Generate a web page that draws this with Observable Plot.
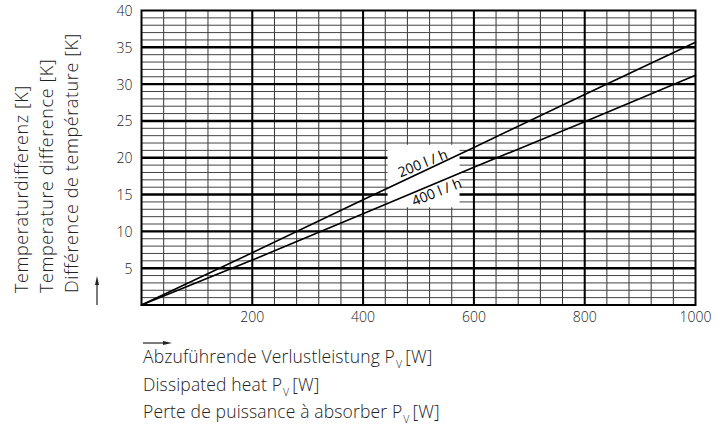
<!DOCTYPE html>
<html>
<head>
<meta charset="utf-8">
<script src="https://cdn.jsdelivr.net/npm/d3@7"></script>
<script src="https://cdn.jsdelivr.net/npm/@observablehq/plot@0.6"></script>
<style>
  html, body { margin: 0; padding: 0; background: #fff; }
  #chart { width: 723px; height: 330px; }
  #cap { position: relative; margin-left: 143px; margin-top: 14px; font-family: "Open Sans", "Liberation Sans", sans-serif; font-weight: 300; font-size: 17.5px; letter-spacing: 0.15px; line-height: 24.5px; color: #222; }
  #cap .sub { position: relative; top: 5px; font-size: 10.5px; margin-left: 1px; margin-right: 3px; }
  #cap svg { position: absolute; left: 0; top: -5px; }
</style>
</head>
<body>
<div id="chart"></div>
<div id="cap">
  <svg width="32" height="8"><line x1="0" y1="4" x2="22" y2="4" stroke="#222" stroke-width="1.2"/><path d="M20,2 L29,4 L20,6 Z" fill="#222"/></svg>
  Abzuführende Verlustleistung P<span class="sub">V</span>[W]<br>
  Dissipated heat P<span class="sub">V</span>[W]<br>
  Perte de puissance à absorber P<span class="sub">V</span>[W]
</div>
<script>
// Power dissipation (W) and temperature difference (K)
const power = [0, 200, 400, 600, 800, 1000];
const dT200 = [0, 7.1, 14.3, 21.4, 28.6, 35.7];   // 200 l/h
const dT400 = [0, 6.1, 12.4, 18.7, 24.9, 31.2];   // 400 l/h
const seriesNames = ["200 l / h", "400 l / h"];
const labelPower = [508, 533];
const labelTemp = [19.2, 15.3];
const xTicks = [200, 400, 600, 800, 1000];
const yTicks = [5, 10, 15, 20, 25, 30, 35, 40];
const xMinor = d3.range(40, 1000, 40);
const yMinor = d3.range(1, 40, 1);
const yTitles = ["Temperaturdifferenz [K]", "Temperature difference [K]", "Différence de température [K]"];
// white cut-out behind the curve labels (W, K)
const labelBox = [{x1: 445, x2: 575, y1: 13.2, y2: 21.7}];

const rows = [];
power.forEach((p, i) => {
  rows.push({p, t: dT200[i], s: seriesNames[0]});
  rows.push({p, t: dT400[i], s: seriesNames[1]});
});
const labels = seriesNames.map((s, i) => ({s, p: labelPower[i], t: labelTemp[i]}));

const font = "'Open Sans', 'Liberation Sans', sans-serif";

const chart = Plot.plot({
  width: 723,
  height: 330,
  marginLeft: 141,
  marginRight: 28,
  marginTop: 10,
  marginBottom: 25.5,
  x: {domain: [0, 1000]},
  y: {domain: [0, 40]},
  style: {fontFamily: font, fontWeight: 300, background: "#fff", color: "#222"},
  marks: [
    Plot.ruleX(xMinor, {stroke: "#333", strokeWidth: 1}),
    Plot.ruleY(yMinor, {stroke: "#444", strokeWidth: 1}),
    Plot.ruleX(xTicks.slice(0, -1), {stroke: "#000", strokeWidth: 2}),
    Plot.ruleY(yTicks.slice(0, -1), {stroke: "#000", strokeWidth: 2.4}),
    Plot.rect(labelBox, {x1: "x1", x2: "x2", y1: "y1", y2: "y2", fill: "#fff"}),
    Plot.line(rows, {x: "p", y: "t", z: "s", stroke: "#000", strokeWidth: 1.6}),
    Plot.text(labels, {x: "p", y: "t", text: "s", rotate: -22, fontSize: 14, fill: "#000", fontWeight: 400}),
    Plot.frame({stroke: "#000", strokeWidth: 2}),
    Plot.axisY(yTicks, {tickSize: 0, tickPadding: 9, fontSize: 14, label: null, dy: 1, tickFormat: d => String(d)}),
    Plot.axisX(xTicks, {tickSize: 0, tickPadding: 7, fontSize: 14, label: null, tickFormat: d => String(d)}),
    ...yTitles.map((t, i) => Plot.text([t], {
      text: d => d, frameAnchor: "bottom-left", rotate: -90, textAnchor: "start",
      lineAnchor: "middle", dx: -119 + 25 * i, dy: -12, fontSize: 18, fill: "#222"
    }))
  ]
});

const svg = d3.select(chart);
// widen the letter spacing of the rotated y titles
svg.selectAll("text").filter(function() { return yTitles.includes(this.textContent); })
  .style("letter-spacing", "0.6px");
// small upward arrow beside the y axis titles
svg.append("line").attr("x1", 97).attr("x2", 97).attr("y1", 305).attr("y2", 283)
  .attr("stroke", "#222").attr("stroke-width", 1.2);
svg.append("path").attr("d", "M95,285 L97,276 L99,285 Z").attr("fill", "#222");

document.getElementById("chart").appendChild(chart);
</script>
</body>
</html>
